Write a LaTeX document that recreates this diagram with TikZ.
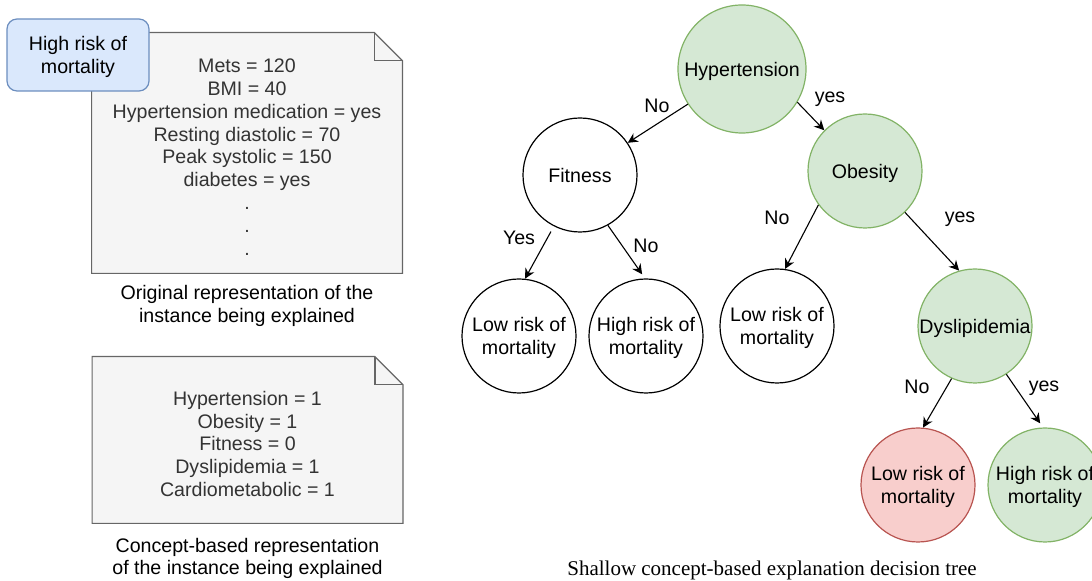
\documentclass[tikz,border=0pt]{standalone}
\usepackage{fontspec}
\setmainfont{Liberation Sans}
\newfontfamily\capserif{Liberation Serif}
\usetikzlibrary{arrows.meta,positioning,backgrounds}

\definecolor{conceptfill}{HTML}{D5E8D4}
\definecolor{conceptline}{HTML}{82B366}
\definecolor{lowfill}{HTML}{F8CECC}
\definecolor{lowline}{HTML}{B85450}
\definecolor{predfill}{HTML}{DAE8FC}
\definecolor{predline}{HTML}{6C8EBF}
\definecolor{notefill}{HTML}{F5F5F5}
\definecolor{noteline}{HTML}{666666}
\definecolor{notetext}{HTML}{333333}

\begin{document}
\begin{tikzpicture}[
    x=0.5pt, y=-0.5pt,
    every node/.style={font=\fontsize{9.8}{11.4}\selectfont, align=center},
    treenode/.style={circle, draw, line width=0.6pt, minimum size=57pt, inner sep=0pt, text depth=0pt},
    conceptnode/.style={treenode, draw=conceptline, fill=conceptfill},
    lowrisk/.style={treenode, draw=lowline, fill=lowfill},
    riskbox/.style={rectangle, rounded corners=5pt, draw=predline, fill=predfill, line width=0.6pt, minimum width=71pt, minimum height=36pt, text depth=0pt},
    notebox/.style={minimum width=155pt, text=notetext, inner sep=0pt},
    notepaper/.style={draw=noteline, fill=notefill, line width=0.6pt},
    lbl/.style={inner sep=0pt},
    capt/.style={inner sep=0pt},
    arrow/.style={-{Stealth[length=5pt,width=5pt]}, line width=0.55pt}
]
\useasboundingbox (0,0) rectangle (1092,581);

% input instance, raw features
\node[notebox, minimum height=120pt] (orig) at (247,153) {\rule{0pt}{11pt}Mets = 120\\BMI = 40\\Hypertension medication = yes\\Resting diastolic = 70\\Peak systolic = 150\\diabetes = yes\\.\\.\\.};
\node[capt, below=5.8pt of orig] (origcap) {Original representation of the\\instance being explained};

% input instance, concepts
\node[notebox, minimum height=83pt] (concepts) at (247.5,440) {\rule{0pt}{11pt}Hypertension = 1\\Obesity = 1\\Fitness = 0\\Dyslipidemia = 1\\Cardiometabolic = 1};
\node[capt, below=7pt of concepts] (conceptcap) {Concept-based representation\\of the instance being explained};

\begin{scope}[on background layer]
  \foreach \n in {orig, concepts} {
    \draw[notepaper] (\n.north west) -- ([xshift=-14pt]\n.north east) -- ([yshift=-14pt]\n.north east) -- (\n.south east) -- (\n.south west) -- cycle;
    \draw[notepaper, fill=none] ([xshift=-14pt]\n.north east) |- ([yshift=-14pt]\n.north east);
  }
\end{scope}

\node[riskbox] (pred) at (78,55) {High risk of\\mortality};

% decision tree
\node[conceptnode, minimum size=64pt] (hyper) at (742,69) {Hypertension};
\node[treenode] (fitness) at (580,175) {Fitness};
\node[conceptnode] (obesity) at (865,171) {Obesity};
\node[treenode] (fitlow) at (519,336) {Low risk of\\mortality};
\node[treenode] (fithigh) at (646,336) {High risk of\\mortality};
\node[treenode] (obelow) at (777,326) {Low risk of\\mortality};
\node[conceptnode] (dyslip) at (975,326) {Dyslipidemia};
\node[lowrisk] (dyslow) at (918,485) {Low risk of\\mortality};
\node[conceptnode] (dyshigh) at (1045,485) {High risk of\\mortality};

\draw[arrow] (hyper.213) -- (fitness.34);
\draw[arrow] (hyper.329) -- (obesity.135);
\draw[arrow, shorten <=3pt] (fitness.243) -- (fitlow.84);
\draw[arrow, shorten >=2.5pt] (fitness.299) -- (fithigh.91);
\draw[arrow] (obesity.216) -- (obelow.82);
\draw[arrow] (obesity.314) -- (dyslip.106);
\draw[arrow] (dyslip.246) -- (dyslow.85);
\draw[arrow, shorten >=2.5pt] (dyslip.303) -- (dyshigh.92);

\node[lbl] (hyperno) at (657,106) {No};
\node[lbl] (hyperyes) at (830,99) {yes};
\node[lbl] (fityes) at (519,238) {Yes};
\node[lbl] (fitno) at (646,246) {No};
\node[lbl] (obeno) at (777,218) {No};
\node[lbl] (obeyes) at (960,219) {yes};
\node[lbl] (dysno) at (917,387) {No};
\node[lbl] (dysyes) at (1044,388) {yes};

\node[capt, font=\capserif\fontsize{10.5}{12}\selectfont] (treecap) at (772,570) {Shallow concept-based explanation decision tree};

\end{tikzpicture}
\end{document}
